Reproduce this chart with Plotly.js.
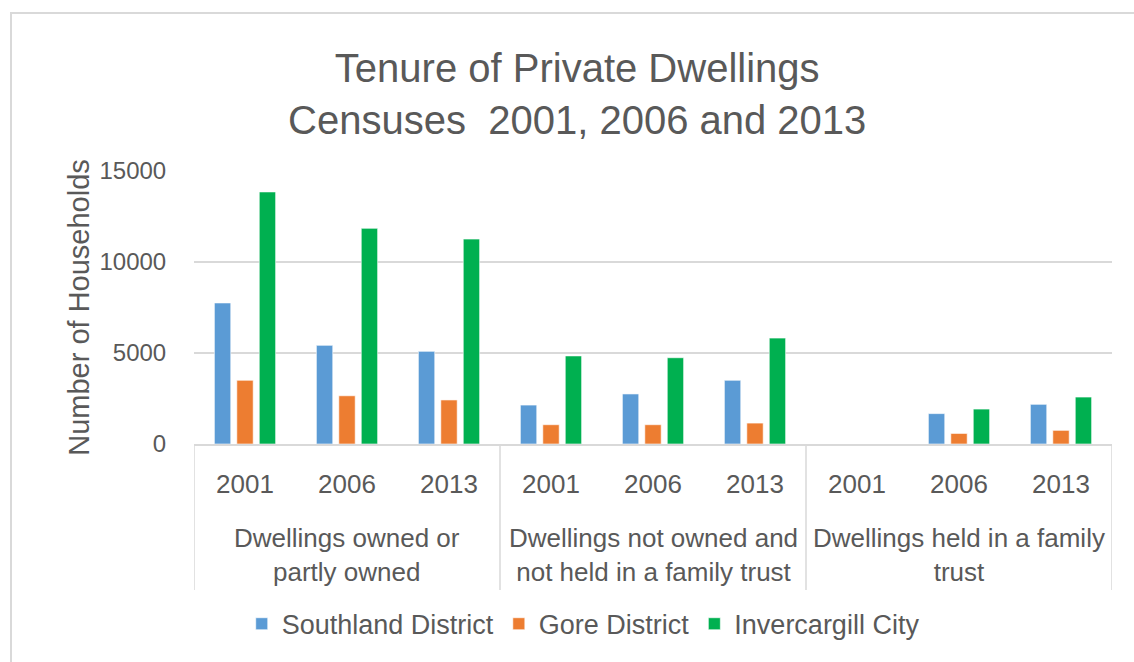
<!DOCTYPE html>
<html>
<head>
<meta charset="utf-8">
<script src="https://cdn.plot.ly/plotly-3.0.1.min.js"></script>
<style>
  html, body { margin: 0; padding: 0; background: #fff; }
  #wrap { position: relative; width: 1134px; height: 662px; }
  #chart { position: absolute; left: 0; top: 0; width: 1134px; height: 662px; }
  #frame { position: absolute; left: 10px; top: 12px; width: 1140px; height: 700px;
           border-left: 2px solid #d9d9d9; border-top: 2px solid #d9d9d9; pointer-events: none; }
</style>
</head>
<body>
<div id="wrap"><div id="chart"></div><div id="frame"></div></div>
<script>
const groups = [
  "Dwellings owned or<br>partly owned",
  "Dwellings not owned and<br>not held in a family trust",
  "Dwellings held in a family<br>trust"
];
const years = ["2001", "2006", "2013"];
const seriesNames = ["Southland District", "Gore District", "Invercargill City"];
const southland = [7750, 5420, 5090, 2140, 2750, 3500, null, 1670, 2180];
const gore = [3500, 2650, 2420, 1060, 1060, 1150, null, 580, 750];
const invercargill = [13850, 11850, 11260, 4840, 4740, 5820, null, 1920, 2580];
const colors = ["#5B9BD5", "#ED7D31", "#00B050"];

// unique category keys (group index + year), shown with the year as tick label
const xKeys = [], xText = [];
groups.forEach((g, gi) => years.forEach(y => { xKeys.push("G" + gi + " " + y); xText.push(y); }));

const values = [southland, gore, invercargill];
const traces = values.map((v, i) => ({
  type: "bar",
  name: seriesNames[i],
  x: xKeys,
  y: v,
  marker: { color: colors[i], line: { color: "rgba(255,255,255,0.6)", width: 1 } }
}));

const FONT = "Liberation Sans, Arial, sans-serif";
const GRAY = "#595959";
const LINE = "#d9d9d9";

// group labels centred under the middle year of each group
const annotations = groups.map((g, gi) => ({
  text: g, xref: "x", yref: "paper",
  x: gi * years.length + (years.length - 1) / 2, y: -0.4066,
  xanchor: "center", yanchor: "middle", showarrow: false, align: "center",
  font: { family: FONT, size: 26, color: GRAY }
}));

// dividers at group boundaries, from the axis down past the group labels
const shapes = [];
for (let gi = 0; gi <= groups.length; gi++) {
  const xb = gi * years.length - 0.5;
  shapes.push({ type: "line", xref: "x", yref: "paper", x0: xb, x1: xb, y0: 0, y1: -0.535,
                line: { color: LINE, width: 1.5 } });
}

const layout = {
  width: 1134, height: 662,
  margin: { l: 194, r: 22, t: 171, b: 218 },
  paper_bgcolor: "#fff", plot_bgcolor: "#fff",
  font: { family: FONT, color: GRAY, size: 24 },
  title: {
    text: "Tenure of Private Dwellings<br>Censuses  2001, 2006 and 2013",
    font: { family: FONT, size: 40, color: GRAY },
    x: 0.509, xref: "container", xanchor: "center",
    y: 0.876, yref: "container", yanchor: "middle"
  },
  barmode: "group",
  bargap: 0.34,
  bargroupgap: 0.27,
  showlegend: true,
  legend: {
    orientation: "h", x: 0.424, xanchor: "center", y: -0.66, yanchor: "middle",
    font: { family: FONT, size: 27, color: GRAY },
    itemwidth: 30, traceorder: "normal"
  },
  xaxis: {
    type: "category",
    tickvals: xKeys, ticktext: xText,
    showline: true, linecolor: LINE, linewidth: 1.5,
    showgrid: false,
    ticks: "outside", ticklen: 16, tickcolor: "rgba(0,0,0,0)",
    tickfont: { family: FONT, size: 26, color: GRAY },
    range: [-0.5, xKeys.length - 0.5],
    fixedrange: true
  },
  yaxis: {
    range: [0, 15000], dtick: 5000, tick0: 0, tickformat: "d",
    showgrid: true, gridcolor: LINE, gridwidth: 1.5,
    zeroline: false, showline: false,
    ticks: "outside", ticklen: 22, tickcolor: "rgba(0,0,0,0)",
    tickfont: { family: FONT, size: 24, color: GRAY },
    title: { text: "Number of Households", standoff: 1, font: { family: FONT, size: 29, color: GRAY } },
    fixedrange: true
  },
  annotations: annotations,
  shapes: shapes
};

Plotly.newPlot("chart", traces, layout, { displayModeBar: false, staticPlot: true });
</script>
</body>
</html>
